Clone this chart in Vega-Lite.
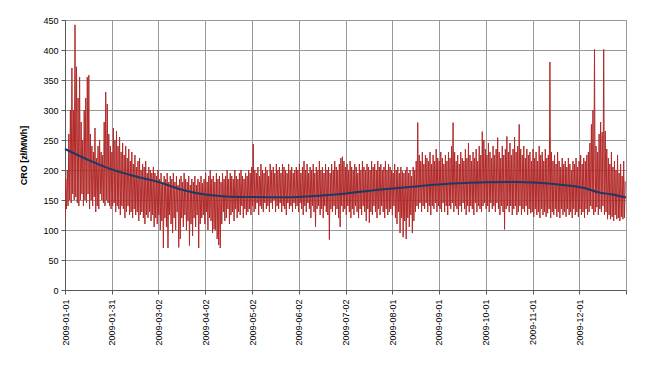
{
"$schema":"https://vega.github.io/schema/vega-lite/v6.json",
"width":561,"height":270,
"autosize":{"type":"none"},
"padding":{"left":65,"top":20,"right":24,"bottom":78},
"background":"white",
"config":{"view":{"stroke":"#7f7f7f","strokeWidth":1},"font":"Liberation Sans"},
"datasets":{
"cro":[
{"d":0,"v":113},{"d":0.5,"v":185},{"d":1,"v":135},{"d":1.5,"v":200},{"d":2,"v":140},{"d":2.5,"v":260},{"d":3,"v":150},{"d":3.5,"v":300},{"d":4,"v":145},{"d":4.5,"v":370},{"d":5,"v":160},{"d":5.5,"v":300},{"d":6,"v":150},{"d":6.5,"v":442},{"d":7,"v":155},{"d":7.5,"v":372},{"d":8,"v":145},{"d":8.5,"v":320},{"d":9,"v":140},{"d":9.5,"v":355},
{"d":10,"v":150},{"d":10.5,"v":280},{"d":11,"v":160},{"d":11.5,"v":250},{"d":12,"v":140},{"d":12.5,"v":300},{"d":13,"v":150},{"d":13.5,"v":320},{"d":14,"v":145},{"d":14.5,"v":355},{"d":15,"v":160},{"d":15.5,"v":358},{"d":16,"v":135},{"d":16.5,"v":260},{"d":17,"v":150},{"d":17.5,"v":240},{"d":18,"v":140},{"d":18.5,"v":230},{"d":19,"v":155},{"d":19.5,"v":270},
{"d":20,"v":130},{"d":20.5,"v":220},{"d":21,"v":140},{"d":21.5,"v":240},{"d":22,"v":135},{"d":22.5,"v":250},{"d":23,"v":160},{"d":23.5,"v":230},{"d":24,"v":150},{"d":24.5,"v":225},{"d":25,"v":145},{"d":25.5,"v":280},{"d":26,"v":140},{"d":26.5,"v":330},{"d":27,"v":150},{"d":27.5,"v":310},{"d":28,"v":145},{"d":28.5,"v":260},{"d":29,"v":140},{"d":29.5,"v":240},
{"d":30,"v":135},{"d":30.5,"v":230},{"d":31,"v":140},{"d":31.5,"v":270},{"d":32,"v":145},{"d":32.5,"v":250},{"d":33,"v":130},{"d":33.5,"v":265},{"d":34,"v":140},{"d":34.5,"v":240},{"d":35,"v":135},{"d":35.5,"v":255},{"d":36,"v":125},{"d":36.5,"v":230},{"d":37,"v":140},{"d":37.5,"v":245},{"d":38,"v":135},{"d":38.5,"v":225},{"d":39,"v":120},{"d":39.5,"v":240},
{"d":40,"v":130},{"d":40.5,"v":220},{"d":41,"v":140},{"d":41.5,"v":235},{"d":42,"v":125},{"d":42.5,"v":215},{"d":43,"v":130},{"d":43.5,"v":230},{"d":44,"v":120},{"d":44.5,"v":210},{"d":45,"v":135},{"d":45.5,"v":225},{"d":46,"v":125},{"d":46.5,"v":205},{"d":47,"v":130},{"d":47.5,"v":215},{"d":48,"v":115},{"d":48.5,"v":220},{"d":49,"v":125},{"d":49.5,"v":200},
{"d":50,"v":130},{"d":50.5,"v":210},{"d":51,"v":120},{"d":51.5,"v":205},{"d":52,"v":110},{"d":52.5,"v":215},{"d":53,"v":125},{"d":53.5,"v":195},{"d":54,"v":120},{"d":54.5,"v":205},{"d":55,"v":130},{"d":55.5,"v":200},{"d":56,"v":115},{"d":56.5,"v":195},{"d":57,"v":125},{"d":57.5,"v":205},{"d":58,"v":105},{"d":58.5,"v":195},{"d":59,"v":120},{"d":59.5,"v":190},
{"d":60,"v":110},{"d":60.5,"v":200},{"d":61,"v":125},{"d":61.5,"v":185},{"d":62,"v":100},{"d":62.5,"v":195},{"d":63,"v":115},{"d":63.5,"v":180},{"d":64,"v":70},{"d":64.5,"v":190},{"d":65,"v":120},{"d":65.5,"v":185},{"d":66,"v":105},{"d":66.5,"v":195},{"d":67,"v":70},{"d":67.5,"v":180},{"d":68,"v":125},{"d":68.5,"v":190},{"d":69,"v":110},{"d":69.5,"v":185},
{"d":70,"v":95},{"d":70.5,"v":195},{"d":71,"v":120},{"d":71.5,"v":180},{"d":72,"v":100},{"d":72.5,"v":190},{"d":73,"v":130},{"d":73.5,"v":175},{"d":74,"v":71},{"d":74.5,"v":185},{"d":75,"v":85},{"d":75.5,"v":190},{"d":76,"v":120},{"d":76.5,"v":180},{"d":77,"v":105},{"d":77.5,"v":195},{"d":78,"v":125},{"d":78.5,"v":185},{"d":79,"v":100},{"d":79.5,"v":180},
{"d":80,"v":115},{"d":80.5,"v":190},{"d":81,"v":74},{"d":81.5,"v":175},{"d":82,"v":110},{"d":82.5,"v":185},{"d":83,"v":90},{"d":83.5,"v":180},{"d":84,"v":120},{"d":84.5,"v":190},{"d":85,"v":105},{"d":85.5,"v":175},{"d":86,"v":125},{"d":86.5,"v":185},{"d":87,"v":70},{"d":87.5,"v":180},{"d":88,"v":110},{"d":88.5,"v":190},{"d":89,"v":120},{"d":89.5,"v":178},
{"d":90,"v":125},{"d":90.5,"v":185},{"d":91,"v":110},{"d":91.5,"v":195},{"d":92,"v":130},{"d":92.5,"v":180},{"d":93,"v":100},{"d":93.5,"v":190},{"d":94,"v":120},{"d":94.5,"v":200},{"d":95,"v":115},{"d":95.5,"v":185},{"d":96,"v":95},{"d":96.5,"v":190},{"d":97,"v":101},{"d":97.5,"v":180},{"d":98,"v":100},{"d":98.5,"v":195},{"d":99,"v":85},{"d":99.5,"v":185},
{"d":100,"v":75},{"d":100.5,"v":190},{"d":101,"v":70},{"d":101.5,"v":180},{"d":102,"v":110},{"d":102.5,"v":195},{"d":103,"v":130},{"d":103.5,"v":185},{"d":104,"v":115},{"d":104.5,"v":190},{"d":105,"v":120},{"d":105.5,"v":200},{"d":106,"v":135},{"d":106.5,"v":185},{"d":107,"v":110},{"d":107.5,"v":195},{"d":108,"v":125},{"d":108.5,"v":190},{"d":109,"v":130},{"d":109.5,"v":185},
{"d":110,"v":115},{"d":110.5,"v":200},{"d":111,"v":135},{"d":111.5,"v":190},{"d":112,"v":120},{"d":112.5,"v":185},{"d":113,"v":130},{"d":113.5,"v":195},{"d":114,"v":125},{"d":114.5,"v":200},{"d":115,"v":140},{"d":115.5,"v":190},{"d":116,"v":120},{"d":116.5,"v":185},{"d":117,"v":135},{"d":117.5,"v":195},{"d":118,"v":125},{"d":118.5,"v":190},{"d":119,"v":130},{"d":119.5,"v":200},
{"d":120,"v":135},{"d":120.5,"v":195},{"d":121,"v":125},{"d":121.5,"v":205},{"d":122,"v":140},{"d":122.5,"v":243},{"d":123,"v":130},{"d":123.5,"v":200},{"d":124,"v":135},{"d":124.5,"v":195},{"d":125,"v":145},{"d":125.5,"v":205},{"d":126,"v":125},{"d":126.5,"v":190},{"d":127,"v":140},{"d":127.5,"v":210},{"d":128,"v":135},{"d":128.5,"v":200},{"d":129,"v":130},{"d":129.5,"v":195},
{"d":130,"v":145},{"d":130.5,"v":205},{"d":131,"v":135},{"d":131.5,"v":200},{"d":132,"v":140},{"d":132.5,"v":190},{"d":133,"v":130},{"d":133.5,"v":210},{"d":134,"v":145},{"d":134.5,"v":200},{"d":135,"v":135},{"d":135.5,"v":205},{"d":136,"v":150},{"d":136.5,"v":195},{"d":137,"v":130},{"d":137.5,"v":210},{"d":138,"v":140},{"d":138.5,"v":200},{"d":139,"v":135},{"d":139.5,"v":205},
{"d":140,"v":145},{"d":140.5,"v":195},{"d":141,"v":130},{"d":141.5,"v":210},{"d":142,"v":140},{"d":142.5,"v":205},{"d":143,"v":135},{"d":143.5,"v":200},{"d":144,"v":125},{"d":144.5,"v":195},{"d":145,"v":145},{"d":145.5,"v":210},{"d":146,"v":135},{"d":146.5,"v":200},{"d":147,"v":140},{"d":147.5,"v":205},{"d":148,"v":130},{"d":148.5,"v":195},{"d":149,"v":145},{"d":149.5,"v":200},
{"d":150,"v":135},{"d":150.5,"v":205},{"d":151,"v":140},{"d":151.5,"v":200},{"d":152,"v":130},{"d":152.5,"v":210},{"d":153,"v":145},{"d":153.5,"v":195},{"d":154,"v":135},{"d":154.5,"v":205},{"d":155,"v":125},{"d":155.5,"v":215},{"d":156,"v":140},{"d":156.5,"v":200},{"d":157,"v":130},{"d":157.5,"v":210},{"d":158,"v":145},{"d":158.5,"v":195},{"d":159,"v":135},{"d":159.5,"v":205},
{"d":160,"v":120},{"d":160.5,"v":200},{"d":161,"v":140},{"d":161.5,"v":210},{"d":162,"v":130},{"d":162.5,"v":195},{"d":163,"v":105},{"d":163.5,"v":205},{"d":164,"v":135},{"d":164.5,"v":200},{"d":165,"v":140},{"d":165.5,"v":215},{"d":166,"v":125},{"d":166.5,"v":200},{"d":167,"v":135},{"d":167.5,"v":205},{"d":168,"v":120},{"d":168.5,"v":195},{"d":169,"v":140},{"d":169.5,"v":210},
{"d":170,"v":130},{"d":170.5,"v":200},{"d":171,"v":125},{"d":171.5,"v":205},{"d":172,"v":84},{"d":172.5,"v":195},{"d":173,"v":135},{"d":173.5,"v":210},{"d":174,"v":130},{"d":174.5,"v":200},{"d":175,"v":140},{"d":175.5,"v":215},{"d":176,"v":125},{"d":176.5,"v":205},{"d":177,"v":135},{"d":177.5,"v":200},{"d":178,"v":120},{"d":178.5,"v":210},{"d":179,"v":105},{"d":179.5,"v":220},
{"d":180,"v":140},{"d":180.5,"v":222},{"d":181,"v":130},{"d":181.5,"v":215},{"d":182,"v":135},{"d":182.5,"v":205},{"d":183,"v":125},{"d":183.5,"v":210},{"d":184,"v":140},{"d":184.5,"v":200},{"d":185,"v":130},{"d":185.5,"v":215},{"d":186,"v":120},{"d":186.5,"v":205},{"d":187,"v":135},{"d":187.5,"v":200},{"d":188,"v":125},{"d":188.5,"v":210},{"d":189,"v":140},{"d":189.5,"v":205},
{"d":190,"v":130},{"d":190.5,"v":195},{"d":191,"v":120},{"d":191.5,"v":210},{"d":192,"v":135},{"d":192.5,"v":200},{"d":193,"v":125},{"d":193.5,"v":215},{"d":194,"v":140},{"d":194.5,"v":205},{"d":195,"v":130},{"d":195.5,"v":200},{"d":196,"v":115},{"d":196.5,"v":210},{"d":197,"v":135},{"d":197.5,"v":205},{"d":198,"v":112},{"d":198.5,"v":200},{"d":199,"v":130},{"d":199.5,"v":215},
{"d":200,"v":125},{"d":200.5,"v":205},{"d":201,"v":140},{"d":201.5,"v":210},{"d":202,"v":130},{"d":202.5,"v":200},{"d":203,"v":120},{"d":203.5,"v":215},{"d":204,"v":135},{"d":204.5,"v":205},{"d":205,"v":125},{"d":205.5,"v":210},{"d":206,"v":140},{"d":206.5,"v":200},{"d":207,"v":130},{"d":207.5,"v":205},{"d":208,"v":120},{"d":208.5,"v":215},{"d":209,"v":135},{"d":209.5,"v":200},
{"d":210,"v":125},{"d":210.5,"v":210},{"d":211,"v":130},{"d":211.5,"v":205},{"d":212,"v":135},{"d":212.5,"v":200},{"d":213,"v":125},{"d":213.5,"v":195},{"d":214,"v":140},{"d":214.5,"v":210},{"d":215,"v":120},{"d":215.5,"v":200},{"d":216,"v":110},{"d":216.5,"v":205},{"d":217,"v":130},{"d":217.5,"v":195},{"d":218,"v":95},{"d":218.5,"v":205},{"d":219,"v":120},{"d":219.5,"v":198},
{"d":220,"v":88},{"d":220.5,"v":195},{"d":221,"v":115},{"d":221.5,"v":200},{"d":222,"v":85},{"d":222.5,"v":205},{"d":223,"v":120},{"d":223.5,"v":195},{"d":224,"v":105},{"d":224.5,"v":200},{"d":225,"v":125},{"d":225.5,"v":190},{"d":226,"v":95},{"d":226.5,"v":205},{"d":227,"v":115},{"d":227.5,"v":200},{"d":228,"v":130},{"d":228.5,"v":215},{"d":229,"v":140},{"d":229.5,"v":279},
{"d":230,"v":135},{"d":230.5,"v":225},{"d":231,"v":145},{"d":231.5,"v":215},{"d":232,"v":130},{"d":232.5,"v":230},{"d":233,"v":140},{"d":233.5,"v":210},{"d":234,"v":135},{"d":234.5,"v":225},{"d":235,"v":145},{"d":235.5,"v":220},{"d":236,"v":130},{"d":236.5,"v":215},{"d":237,"v":140},{"d":237.5,"v":230},{"d":238,"v":125},{"d":238.5,"v":210},{"d":239,"v":140},{"d":239.5,"v":225},
{"d":240,"v":135},{"d":240.5,"v":215},{"d":241,"v":145},{"d":241.5,"v":235},{"d":242,"v":130},{"d":242.5,"v":220},{"d":243,"v":140},{"d":243.5,"v":215},{"d":244,"v":135},{"d":244.5,"v":230},{"d":245,"v":130},{"d":245.5,"v":220},{"d":246,"v":145},{"d":246.5,"v":210},{"d":247,"v":130},{"d":247.5,"v":225},{"d":248,"v":140},{"d":248.5,"v":215},{"d":249,"v":125},{"d":249.5,"v":230},
{"d":250,"v":140},{"d":250.5,"v":220},{"d":251,"v":135},{"d":251.5,"v":240},{"d":252,"v":145},{"d":252.5,"v":279},{"d":253,"v":130},{"d":253.5,"v":230},{"d":254,"v":140},{"d":254.5,"v":215},{"d":255,"v":135},{"d":255.5,"v":225},{"d":256,"v":125},{"d":256.5,"v":210},{"d":257,"v":140},{"d":257.5,"v":230},{"d":258,"v":130},{"d":258.5,"v":220},{"d":259,"v":145},{"d":259.5,"v":215},
{"d":260,"v":135},{"d":260.5,"v":235},{"d":261,"v":125},{"d":261.5,"v":220},{"d":262,"v":140},{"d":262.5,"v":245},{"d":263,"v":130},{"d":263.5,"v":225},{"d":264,"v":140},{"d":264.5,"v":215},{"d":265,"v":135},{"d":265.5,"v":230},{"d":266,"v":125},{"d":266.5,"v":220},{"d":267,"v":145},{"d":267.5,"v":235},{"d":268,"v":130},{"d":268.5,"v":215},{"d":269,"v":140},{"d":269.5,"v":240},
{"d":270,"v":135},{"d":270.5,"v":225},{"d":271,"v":130},{"d":271.5,"v":264},{"d":272,"v":140},{"d":272.5,"v":250},{"d":273,"v":145},{"d":273.5,"v":235},{"d":274,"v":135},{"d":274.5,"v":225},{"d":275,"v":140},{"d":275.5,"v":245},{"d":276,"v":130},{"d":276.5,"v":230},{"d":277,"v":145},{"d":277.5,"v":220},{"d":278,"v":135},{"d":278.5,"v":240},{"d":279,"v":140},{"d":279.5,"v":225},
{"d":280,"v":130},{"d":280.5,"v":235},{"d":281,"v":145},{"d":281.5,"v":254},{"d":282,"v":135},{"d":282.5,"v":230},{"d":283,"v":125},{"d":283.5,"v":220},{"d":284,"v":140},{"d":284.5,"v":240},{"d":285,"v":130},{"d":285.5,"v":225},{"d":286,"v":101},{"d":286.5,"v":235},{"d":287,"v":135},{"d":287.5,"v":256},{"d":288,"v":140},{"d":288.5,"v":230},{"d":289,"v":130},{"d":289.5,"v":245},
{"d":290,"v":140},{"d":290.5,"v":225},{"d":291,"v":125},{"d":291.5,"v":235},{"d":292,"v":135},{"d":292.5,"v":255},{"d":293,"v":140},{"d":293.5,"v":230},{"d":294,"v":125},{"d":294.5,"v":240},{"d":295,"v":130},{"d":295.5,"v":276},{"d":296,"v":140},{"d":296.5,"v":235},{"d":297,"v":125},{"d":297.5,"v":225},{"d":298,"v":135},{"d":298.5,"v":240},{"d":299,"v":130},{"d":299.5,"v":220},
{"d":300,"v":140},{"d":300.5,"v":235},{"d":301,"v":125},{"d":301.5,"v":225},{"d":302,"v":135},{"d":302.5,"v":230},{"d":303,"v":128},{"d":303.5,"v":215},{"d":304,"v":130},{"d":304.5,"v":235},{"d":305,"v":122},{"d":305.5,"v":220},{"d":306,"v":135},{"d":306.5,"v":230},{"d":307,"v":125},{"d":307.5,"v":215},{"d":308,"v":130},{"d":308.5,"v":240},{"d":309,"v":120},{"d":309.5,"v":225},
{"d":310,"v":135},{"d":310.5,"v":230},{"d":311,"v":125},{"d":311.5,"v":215},{"d":312,"v":130},{"d":312.5,"v":235},{"d":313,"v":122},{"d":313.5,"v":220},{"d":314,"v":128},{"d":314.5,"v":225},{"d":315,"v":135},{"d":315.5,"v":380},{"d":316,"v":120},{"d":316.5,"v":230},{"d":317,"v":130},{"d":317.5,"v":215},{"d":318,"v":125},{"d":318.5,"v":225},{"d":319,"v":135},{"d":319.5,"v":210},
{"d":320,"v":122},{"d":320.5,"v":230},{"d":321,"v":130},{"d":321.5,"v":215},{"d":322,"v":120},{"d":322.5,"v":205},{"d":323,"v":135},{"d":323.5,"v":220},{"d":324,"v":125},{"d":324.5,"v":210},{"d":325,"v":130},{"d":325.5,"v":215},{"d":326,"v":122},{"d":326.5,"v":205},{"d":327,"v":135},{"d":327.5,"v":220},{"d":328,"v":125},{"d":328.5,"v":210},{"d":329,"v":130},{"d":329.5,"v":200},
{"d":330,"v":120},{"d":330.5,"v":215},{"d":331,"v":135},{"d":331.5,"v":210},{"d":332,"v":125},{"d":332.5,"v":220},{"d":333,"v":130},{"d":333.5,"v":205},{"d":334,"v":122},{"d":334.5,"v":215},{"d":335,"v":135},{"d":335.5,"v":225},{"d":336,"v":125},{"d":336.5,"v":210},{"d":337,"v":130},{"d":337.5,"v":220},{"d":338,"v":120},{"d":338.5,"v":215},{"d":339,"v":135},{"d":339.5,"v":225},
{"d":340,"v":125},{"d":340.5,"v":230},{"d":341,"v":130},{"d":341.5,"v":245},{"d":342,"v":140},{"d":342.5,"v":276},{"d":343,"v":135},{"d":343.5,"v":300},{"d":344,"v":125},{"d":344.5,"v":401},{"d":345,"v":130},{"d":345.5,"v":240},{"d":346,"v":138},{"d":346.5,"v":230},{"d":347,"v":125},{"d":347.5,"v":260},{"d":348,"v":135},{"d":348.5,"v":280},{"d":349,"v":130},{"d":349.5,"v":263},
{"d":350,"v":140},{"d":350.5,"v":401},{"d":351,"v":125},{"d":351.5,"v":265},{"d":352,"v":130},{"d":352.5,"v":235},{"d":353,"v":118},{"d":353.5,"v":220},{"d":354,"v":125},{"d":354.5,"v":210},{"d":355,"v":118},{"d":355.5,"v":230},{"d":356,"v":122},{"d":356.5,"v":205},{"d":357,"v":115},{"d":357.5,"v":215},{"d":358,"v":125},{"d":358.5,"v":200},{"d":359,"v":118},{"d":359.5,"v":225},
{"d":360,"v":120},{"d":360.5,"v":195},{"d":361,"v":115},{"d":361.5,"v":210},{"d":362,"v":122},{"d":362.5,"v":190},{"d":363,"v":118},{"d":363.5,"v":215},{"d":364,"v":120},{"d":364.5,"v":181}
],
"trend":[
{"d":0,"v":235},{"d":15,"v":217},{"d":30.4,"v":201},{"d":45,"v":190},{"d":60.8,"v":180},{"d":75,"v":168},{"d":91,"v":159},{"d":105,"v":156},{"d":122,"v":155},{"d":140,"v":154.5},{"d":152,"v":155},{"d":167,"v":157.5},{"d":183,"v":161},{"d":200,"v":166},{"d":219,"v":170.5},{"d":243,"v":176},{"d":260,"v":178.5},{"d":274,"v":179.5},{"d":293,"v":180},{"d":305,"v":179},{"d":324,"v":175},{"d":337,"v":170.5},{"d":347,"v":163},{"d":356,"v":159},{"d":365,"v":154}
]},
"encoding":{
  "x":{"field":"d","type":"quantitative","scale":{"domain":[0,365],"nice":false,"zero":false},
   "axis":{"title":null,"values":[0,30.4167,60.8333,91.25,121.6667,152.0833,182.5,212.9167,243.3333,273.75,304.1667,334.5833,365],
    "labelExpr":"datum.value > 360 ? '' : utcFormat(utc(2009,0,1) + datum.value*86400000, '%Y-%m-%d')",
    "labelAngle":270,"labelFontSize":9,"labelColor":"#000","labelPadding":5,"labelFont":"Liberation Sans",
    "grid":true,"gridColor":"#999999","gridWidth":1,"domainColor":"#595959","tickColor":"#595959","tickSize":4,"labelFlush":false,"labelOverlap":false}},
  "y":{"field":"v","type":"quantitative","scale":{"domain":[0,450],"nice":false,"zero":true},
   "axis":{"title":"CRO [zł/MWh]","values":[0,50,100,150,200,250,300,350,400,450],
    "labelFontSize":9,"labelColor":"#000","labelPadding":3,"labelFont":"Liberation Sans",
    "titleFontSize":9,"titleFontWeight":"bold","titleColor":"#000","titleFont":"Liberation Sans","titlePadding":14,
    "grid":true,"gridColor":"#999999","gridWidth":1,"domainColor":"#595959","tickColor":"#595959","tickSize":4,"labelFlush":false,"labelOverlap":false}}
},
"layer":[
{"data":{"name":"cro"},
 "mark":{"type":"line","color":"#b22a2a","strokeWidth":1,"clip":true}},
{"data":{"name":"trend"},
 "mark":{"type":"line","color":"#1f3864","strokeWidth":2,"interpolate":"monotone"}}
]
}
